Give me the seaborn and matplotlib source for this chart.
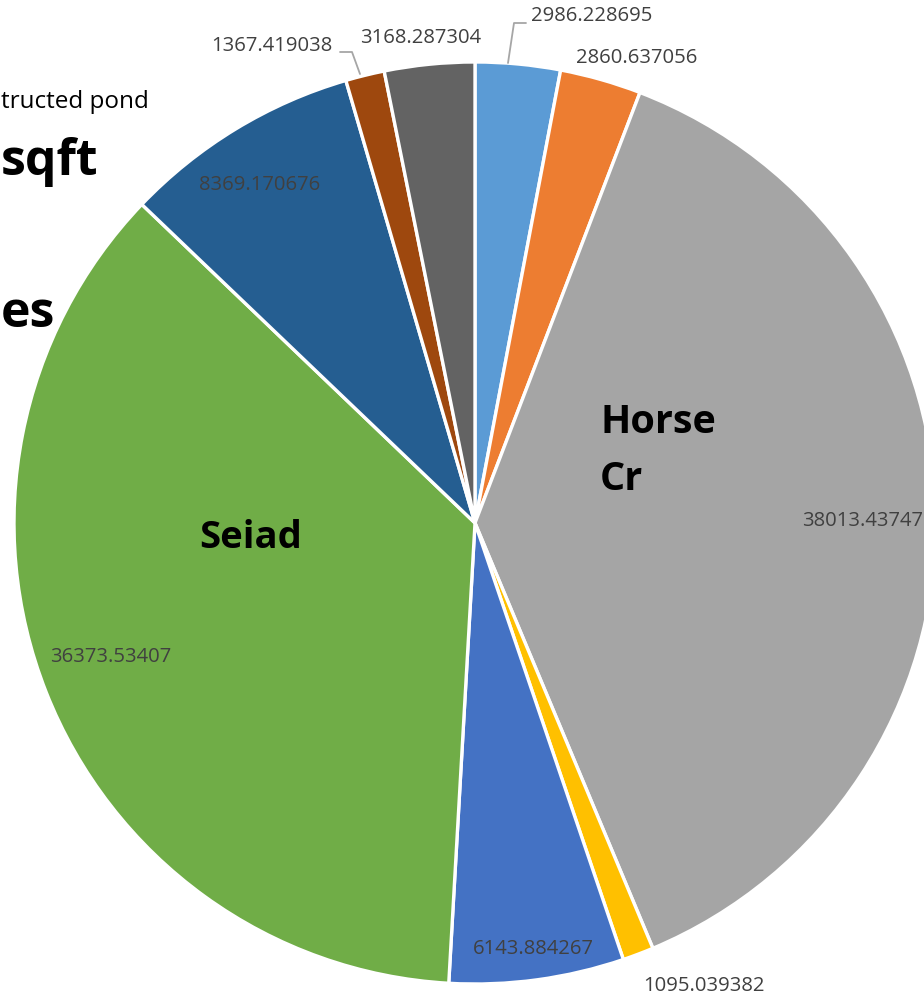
import matplotlib
matplotlib.use("Agg")
import matplotlib.pyplot as plt
import seaborn as sns
import numpy as np

# Pond area by site (sqft)
values = [2986.228695, 2860.637056, 38013.43747, 1095.039382, 6143.884267,
          36373.53407, 8369.170676, 1367.419038, 3168.287304]
value_labels = ["2986.228695", "2860.637056", "38013.43747", "1095.039382",
                "6143.884267", "36373.53407", "8369.170676", "1367.419038",
                "3168.287304"]
colors = ["#5B9BD5", "#ED7D31", "#A5A5A5", "#FFC000", "#4472C4",
          "#70AD47", "#255E91", "#9E480E", "#636363"]

# Label centres in figure pixels (x right, y down)
label_xy = [(592, 16), (637, 58), (863, 521), (704, 986), (533, 949),
            (111, 657), (260, 185), (272, 46), (421, 38)]

sns.set_theme(style="white")
plt.rcParams["font.family"] = ["Open Sans", "DejaVu Sans"]

W, H = 924, 999
fig = plt.figure(figsize=(W / 100, H / 100), dpi=100)
ax = fig.add_axes([0, 0, 1, 1])

cx, cy, R = 475, 523, 461
# y axis is inverted, so counterclock=True runs clockwise on screen
ax.pie(values, colors=sns.color_palette(colors), startangle=-90,
       counterclock=True, radius=R, center=(cx, cy), frame=True,
       wedgeprops=dict(edgecolor="white", linewidth=2.4))
ax.set_xlim(0, W)
ax.set_ylim(H, 0)
ax.set_aspect("equal")
ax.axis("off")

lab_color = "#404040"
for (x, y), t in zip(label_xy, value_labels):
    ax.text(x, y, t, ha="center", va="center", fontsize=14.6, color=lab_color)

# leader lines for the small outer slices
lead = "#A6A6A6"
ax.plot([508, 514, 526], [63, 23, 23], color=lead, lw=1.3)
ax.plot([340, 352, 360], [52, 52, 74], color=lead, lw=1.3)

# category names
ax.text(600, 433, "Horse", ha="left", va="baseline", fontsize=28.5,
        fontweight="bold", color="black")
ax.text(600, 490, "Cr", ha="left", va="baseline", fontsize=28.5,
        fontweight="bold", color="black")
ax.text(251, 538, "Seiad", ha="center", va="center", fontsize=27.5,
        fontweight="bold", color="black")

# title lines along the left edge
ax.text(1, 108, "tructed pond", ha="left", va="baseline",
        fontsize=17.5, color="black")
ax.text(1, 175, "sqft", ha="left", va="baseline", fontsize=36,
        fontweight="bold", color="black")
ax.text(1, 327, "es", ha="left", va="baseline", fontsize=36,
        fontweight="bold", color="black")

fig.savefig("out.png", dpi=100)
